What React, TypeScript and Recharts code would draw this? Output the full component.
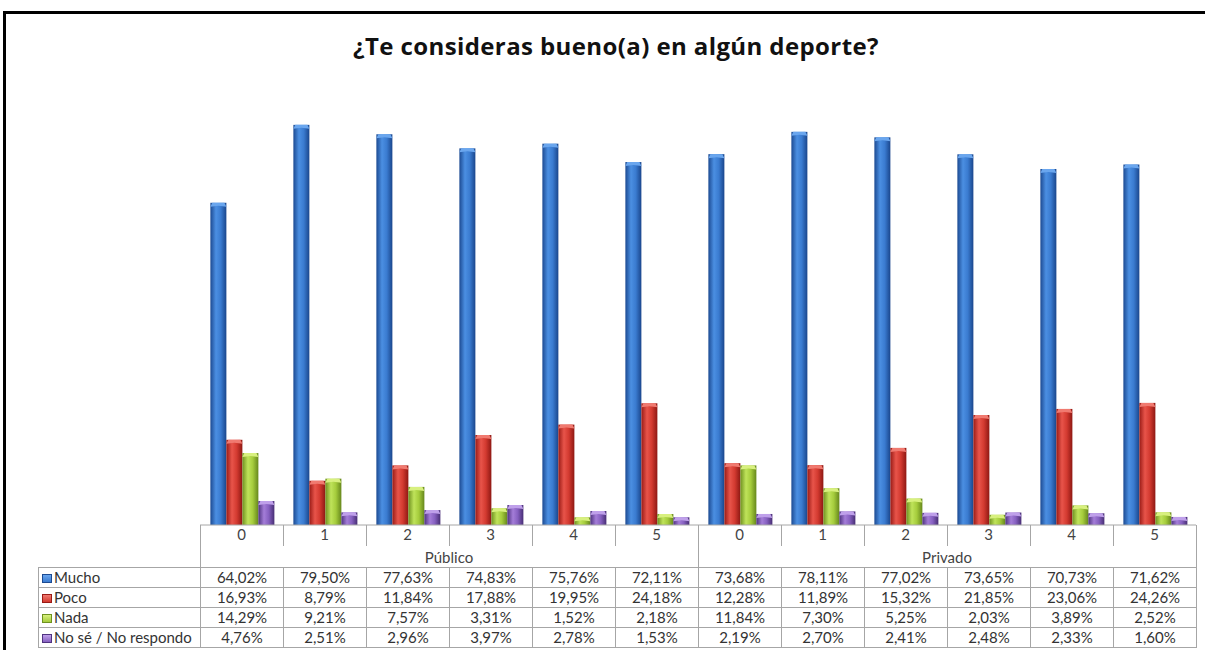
import React from "react";
import { BarChart, Bar, XAxis, YAxis } from "recharts";

const categorias = ["0", "1", "2", "3", "4", "5", "0", "1", "2", "3", "4", "5"];
const grupos = ["Público", "Privado"];
const mucho = [64.02, 79.5, 77.63, 74.83, 75.76, 72.11, 73.68, 78.11, 77.02, 73.65, 70.73, 71.62];
const poco = [16.93, 8.79, 11.84, 17.88, 19.95, 24.18, 12.28, 11.89, 15.32, 21.85, 23.06, 24.26];
const nada = [14.29, 9.21, 7.57, 3.31, 1.52, 2.18, 11.84, 7.3, 5.25, 2.03, 3.89, 2.52];
const noSe = [4.76, 2.51, 2.96, 3.97, 2.78, 1.53, 2.19, 2.7, 2.41, 2.48, 2.33, 1.6];

const series = [
  { key: "mucho", nombre: "Mucho", valores: mucho, cores: ["#1c4a92", "#4b8fe2", "#3a7bd0", "#1a468c"], tapa: "#6aa6ee" },
  { key: "poco", nombre: "Poco", valores: poco, cores: ["#9a1b16", "#e8544a", "#d33a30", "#8e1813"], tapa: "#f07a70" },
  { key: "nada", nombre: "Nada", valores: nada, cores: ["#6f9220", "#bfe35a", "#a5cc3c", "#66871c"], tapa: "#d8f07f" },
  { key: "noSe", nombre: "No sé / No respondo", valores: noSe, cores: ["#4f3380", "#a47dd8", "#8660c0", "#472e74"], tapa: "#bfa0ea" },
];

const dados = categorias.map((c, i) => {
  const linha: Record<string, string | number> = { cat: `${grupos[i < 6 ? 0 : 1]}-${c}-${i}`, label: c };
  series.forEach((s) => (linha[s.key] = s.valores[i]));
  return linha;
});

const fmt = (v: number) => v.toFixed(2).replace(".", ",") + "%";

const ESQ = 200;
const DIR = 1196;
const BASE = 525;
const TOPO = 72;
const EIXO_H = 22;
const COL = (DIR - ESQ) / categorias.length;
const FONTE = "Lato, 'Open Sans', sans-serif";

function BarraCilindro(props: any) {
  const { x, y, width, height, fill, tapa } = props;
  if (!height || height <= 0) return null;
  const cap = Math.min(4, height);
  return (
    <g>
      <rect x={x} y={y} width={width} height={height} fill={fill} />
      <polygon
        points={`${x},${y + cap} ${x + 2},${y} ${x + width - 2},${y} ${x + width},${y + cap} ${x + width / 2},${y + cap - 1}`}
        fill={tapa}
      />
    </g>
  );
}

export default function App() {
  const borda = "1px solid #a6a6a6";
  return (
    <div style={{ position: "absolute", left: 0, top: 0, width: 1205, height: 650, background: "#fff", overflow: "hidden", fontFamily: FONTE }}>
      <svg width={0} height={0} style={{ position: "absolute" }}>
        <defs>
          {series.map((s) => (
            <linearGradient key={s.key} id={`g-${s.key}`} x1="0" y1="0" x2="1" y2="0">
              <stop offset="0%" stopColor={s.cores[0]} />
              <stop offset="35%" stopColor={s.cores[1]} />
              <stop offset="65%" stopColor={s.cores[2]} />
              <stop offset="100%" stopColor={s.cores[3]} />
            </linearGradient>
          ))}
        </defs>
      </svg>

      {/* moldura */}
      <div style={{ position: "absolute", left: 3, top: 11, width: 1202, height: 3, background: "#000" }} />
      <div style={{ position: "absolute", left: 3, top: 11, width: 3, height: 639, background: "#000" }} />

      <div
        style={{
          position: "absolute",
          left: 266,
          top: 29,
          width: 700,
          textAlign: "center",
          fontSize: 24,
          fontWeight: 700,
          letterSpacing: 0.4,
          color: "#111",
          fontFamily: "'Open Sans', Lato, sans-serif",
        }}
      >
        ¿Te consideras bueno(a) en algún deporte?
      </div>

      <div style={{ position: "absolute", left: 0, top: 0 }}>
        <BarChart
          width={1205}
          height={650}
          data={dados}
          margin={{ top: TOPO, left: ESQ, right: 1205 - DIR, bottom: 650 - BASE - EIXO_H }}
          barCategoryGap="12.5%"
          barGap={0}
        >
          <XAxis
            dataKey="cat"
            tickFormatter={(_v: string, i: number) => categorias[i]}
            axisLine={{ stroke: "#a6a6a6" }}
            tickLine={false}
            tickSize={0}
            tickMargin={4}
            interval={0}
            tick={{ fontSize: 15, fill: "#444", fontFamily: FONTE }}
            height={EIXO_H}
          />
          <YAxis hide domain={[0, 90]} />
          {series.map((s) => (
            <Bar
              key={s.key}
              dataKey={s.key}
              name={s.nombre}
              fill={`url(#g-${s.key})`}
              isAnimationActive={false}
              shape={(p: any) => <BarraCilindro {...p} tapa={s.tapa} />}
            />
          ))}
        </BarChart>
      </div>

      {/* cabeçalho da tabela: divisões das categorias e grupos */}
      {categorias.map((c, i) => (
        <div
          key={`t${i}`}
          style={{
            position: "absolute",
            left: ESQ + COL * i,
            top: BASE,
            width: 0,
            height: i % 6 === 0 ? 42 : 21,
            borderLeft: borda,
          }}
        />
      ))}
      <div style={{ position: "absolute", left: DIR, top: BASE, width: 0, height: 42, borderLeft: borda }} />
      {grupos.map((g, gi) => (
        <div
          key={g}
          style={{
            position: "absolute",
            left: ESQ + COL * 6 * gi,
            top: BASE + 22,
            width: COL * 6,
            height: 20,
            lineHeight: "20px",
            textAlign: "center",
            fontSize: 15,
            color: "#444",
          }}
        >
          {g}
        </div>
      ))}

      <table
        style={{
          position: "absolute",
          left: 38,
          top: 567,
          borderCollapse: "collapse",
          tableLayout: "fixed",
          width: DIR - 38 + 1,
          fontSize: 15,
          color: "#333",
          fontFamily: FONTE,
        }}
      >
        <colgroup>
          <col style={{ width: ESQ - 38 }} />
          {categorias.map((_, i) => (
            <col key={i} style={{ width: COL }} />
          ))}
        </colgroup>
        <tbody>
          {series.map((s) => (
            <tr key={s.key} style={{ height: 20 }}>
              <td style={{ border: borda, padding: "0 0 0 3px", whiteSpace: "nowrap", lineHeight: "19px" }}>
                <span
                  style={{
                    display: "inline-block",
                    width: 10,
                    height: 9,
                    marginRight: 2,
                    background: `linear-gradient(180deg, ${s.tapa}, ${s.cores[2]})`,
                    border: `1px solid ${s.cores[0]}`,
                    boxSizing: "border-box",
                  }}
                />
                {s.nombre}
              </td>
              {s.valores.map((v, i) => (
                <td key={i} style={{ border: borda, textAlign: "center", padding: 0, lineHeight: "19px" }}>
                  {fmt(v)}
                </td>
              ))}
            </tr>
          ))}
        </tbody>
      </table>
    </div>
  );
}
